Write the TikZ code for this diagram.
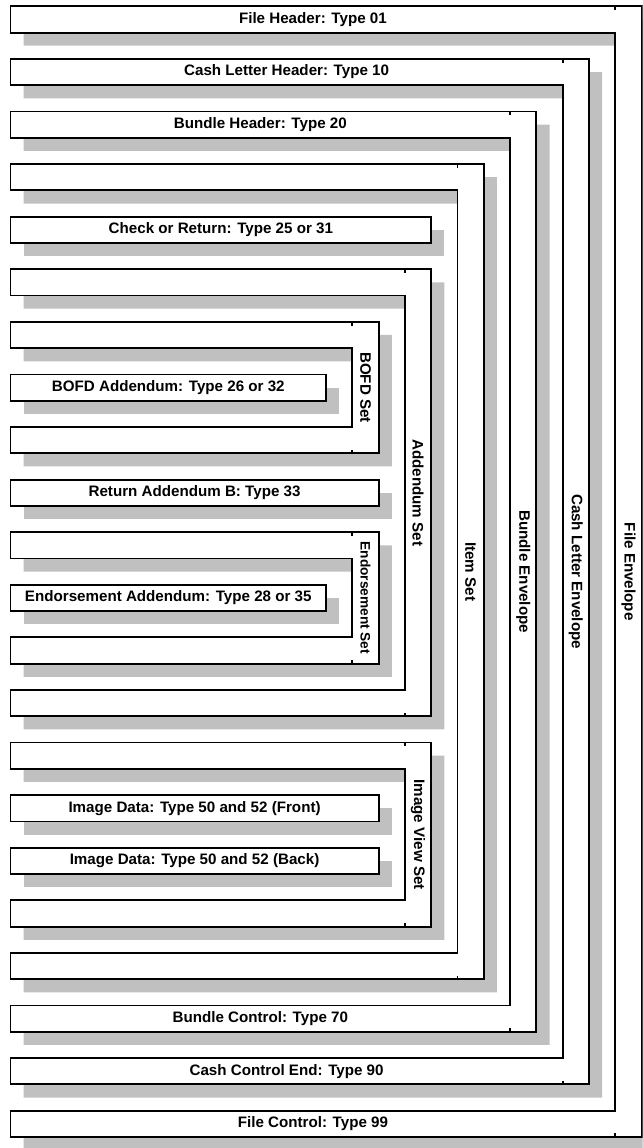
\documentclass[tikz,border=0pt]{standalone}
\usepackage{fontspec}
\setmainfont{Liberation Sans}
\usepackage{tikz}
\usetikzlibrary{shadows}
\definecolor{shadowGray}{RGB}{192,192,192}

\begin{document}
\begin{tikzpicture}[
    rec/.style={draw, fill=white, line width=1pt},
    shd/.style={drop shadow={shadow xshift=0.25cm, shadow yshift=-0.25cm,
                fill=shadowGray, opacity=1}},
    seam/.style={draw, line width=1pt},
    lbl/.style={font=\fontsize{8.2}{9.8}\selectfont\bfseries},
    vlbl/.style={lbl, rotate=-90},
    bx/.style={rec, shd, lbl, minimum height=0.5cm, inner sep=0pt,
               outer sep=0pt, anchor=west}
  ]
  \useasboundingbox (0,0) rectangle (12.22,-21.83);
  \clip (0,0) rectangle (12.22,-21.83);
  % File envelope
  \draw[rec, shd] (0.2,-0.12) -| (12.2,-21.62) -| (0.2,-21.12) -| (11.7,-0.62) -- (0.2,-0.62) -- cycle;
  \draw[seam] (11.7,-0.12) -- ++(0,-0.07) (11.7,-21.62) -- ++(0,0.07);
  \node[lbl] (fileHdr) at (5.95,-0.37) {File Header: Type 01};
  \node[lbl] (fileCtl) at (5.95,-21.37) {File Control: Type 99};
  \node[vlbl] (fileEnv) at (11.95,-10.87) {File Envelope};
  % Cash letter envelope
  \draw[rec, shd] (0.2,-1.12) -| (11.2,-20.62) -| (0.2,-20.12) -| (10.7,-1.62) -- (0.2,-1.62) -- cycle;
  \draw[seam] (10.7,-1.12) -- ++(0,-0.07) (10.7,-20.62) -- ++(0,0.07);
  \node[lbl] (cashHdr) at (5.45,-1.37) {Cash Letter Header: Type 10};
  \node[lbl] (cashCtl) at (5.45,-20.37) {Cash Control End: Type 90};
  \node[vlbl] (cashEnv) at (10.95,-10.87) {Cash Letter Envelope};
  % Bundle envelope
  \draw[rec, shd] (0.2,-2.12) -| (10.2,-19.62) -| (0.2,-19.12) -| (9.7,-2.62) -- (0.2,-2.62) -- cycle;
  \draw[seam] (9.7,-2.12) -- ++(0,-0.07) (9.7,-19.62) -- ++(0,0.07);
  \node[lbl] (bundleHdr) at (4.95,-2.37) {Bundle Header: Type 20};
  \node[lbl] (bundleCtl) at (4.95,-19.37) {Bundle Control: Type 70};
  \node[vlbl] (bundleEnv) at (9.95,-10.87) {Bundle Envelope};
  % Item set
  \draw[rec, shd] (0.2,-3.12) -| (9.2,-18.62) -| (0.2,-18.12) -| (8.7,-3.62) -- (0.2,-3.62) -- cycle;
  \draw[seam] (8.7,-3.12) -- ++(0,-0.07) (8.7,-18.62) -- ++(0,0.07);
  \node[vlbl] (itemSet) at (8.95,-10.87) {Item Set};
  \node[bx, minimum width=8cm] (check) at (0.2,-4.37) {Check or Return: Type 25 or 31};
  % Addendum set
  \draw[rec, shd] (0.2,-5.12) -| (8.2,-13.62) -| (0.2,-13.12) -| (7.7,-5.62) -- (0.2,-5.62) -- cycle;
  \draw[seam] (7.7,-5.12) -- ++(0,-0.07) (7.7,-13.62) -- ++(0,0.07);
  \node[vlbl] (addSet) at (7.95,-9.37) {Addendum Set};
  % BOFD set
  \draw[rec, shd] (0.2,-6.12) -| (7.2,-8.62) -| (0.2,-8.12) -| (6.7,-6.62) -- (0.2,-6.62) -- cycle;
  \draw[seam] (6.7,-6.12) -- ++(0,-0.07) (6.7,-8.62) -- ++(0,0.07);
  \node[vlbl] (bofdSet) at (6.95,-7.37) {BOFD Set};
  \node[bx, minimum width=6cm] (bofd) at (0.2,-7.37) {BOFD Addendum: Type 26 or 32};
  \node[bx, minimum width=7cm] (retB) at (0.2,-9.37) {Return Addendum B: Type 33};
  % Endorsement set
  \draw[rec, shd] (0.2,-10.12) -| (7.2,-12.62) -| (0.2,-12.12) -| (6.7,-10.62) -- (0.2,-10.62) -- cycle;
  \draw[seam] (6.7,-10.12) -- ++(0,-0.07) (6.7,-12.62) -- ++(0,0.07);
  \node[vlbl, font=\fontsize{7.4}{9}\selectfont\bfseries] (endSet) at (6.95,-11.37) {Endorsement Set};
  \node[bx, minimum width=6cm] (endAdd) at (0.2,-11.37) {Endorsement Addendum: Type 28 or 35};
  % Image view set
  \draw[rec, shd] (0.2,-14.12) -| (8.2,-17.62) -| (0.2,-17.12) -| (7.7,-14.62) -- (0.2,-14.62) -- cycle;
  \draw[seam] (7.7,-14.12) -- ++(0,-0.07) (7.7,-17.62) -- ++(0,0.07);
  \node[vlbl] (imgSet) at (7.95,-15.87) {Image View Set};
  \node[bx, minimum width=7cm] (imgFront) at (0.2,-15.37) {Image Data: Type 50 and 52 (Front)};
  \node[bx, minimum width=7cm] (imgBack) at (0.2,-16.37) {Image Data: Type 50 and 52 (Back)};
\end{tikzpicture}
\end{document}
